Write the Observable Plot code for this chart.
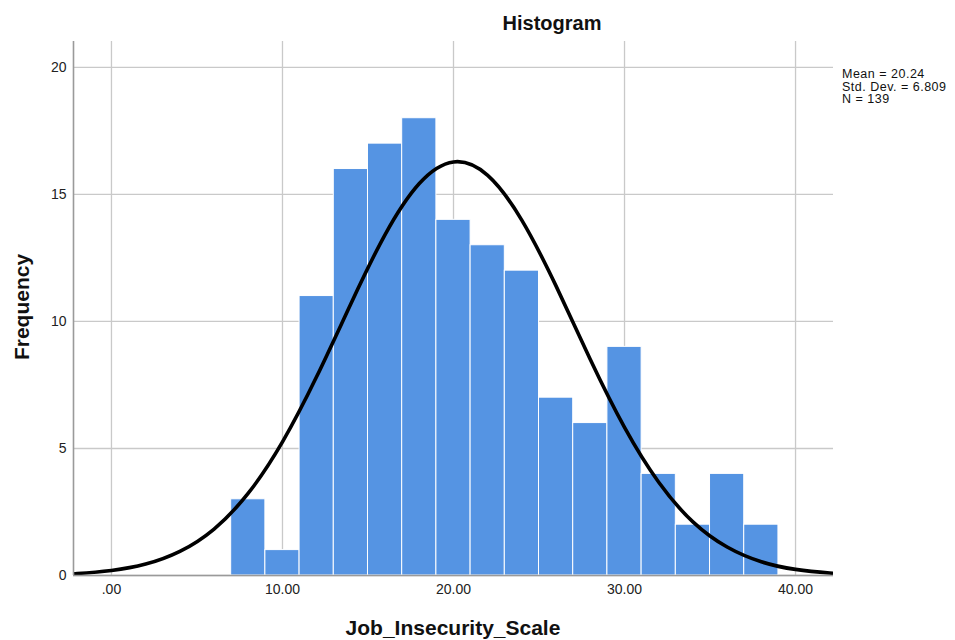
<!DOCTYPE html>
<html>
<head>
<meta charset="utf-8">
<script src="https://cdn.jsdelivr.net/npm/d3@7"></script>
<script src="https://cdn.jsdelivr.net/npm/@observablehq/plot@0.6"></script>
<style>
  html, body { margin: 0; padding: 0; background: #fff; }
  #wrap { position: relative; width: 955px; height: 640px; font-family: "Liberation Sans", Arial, sans-serif; color: #111; }
  #wrap svg { position: absolute; left: 0; top: 0; }
  .lbl { position: absolute; white-space: nowrap; }
</style>
</head>
<body>
<div id="wrap">
  <div class="lbl" id="title">Histogram</div>
  <div class="lbl" id="ylab">Frequency</div>
  <div class="lbl" id="xlab">Job_Insecurity_Scale</div>
  <div class="lbl" id="stats"></div>
</div>
<script>
// ---- data ----
const binStarts = [7, 9, 11, 13, 15, 17, 19, 21, 23, 25, 27, 29, 31, 33, 35, 37];
const binWidth = 2;
const counts = [3, 1, 11, 16, 17, 18, 14, 13, 12, 7, 6, 9, 4, 2, 4, 2];

// fitted normal curve
const curveX = [-3, -2, 0, 2, 4, 6, 8, 10, 12, 14, 16, 18, 20, 22, 24, 26, 28, 30, 32, 34, 36, 38, 40, 42, 43];
const curveY = [0.05, 0.08, 0.20, 0.45, 0.95, 1.83, 3.24, 5.26, 7.83, 10.70, 13.42, 15.43, 16.28, 15.75, 13.98, 11.39, 8.50, 5.83, 3.67, 2.11, 1.12, 0.54, 0.24, 0.10, 0.06];

const xTicks = [0, 10, 20, 30, 40];
const yTicks = [0, 5, 10, 15, 20];
const statLines = ["Mean = 20.24", "Std. Dev. = 6.809", "N = 139"];

// ---- tables ----
const bars = binStarts.map((s, i) => ({x1: s, x2: s + binWidth, count: counts[i]}));
const curve = curveX.map((x, i) => ({x, y: curveY[i]}));

const xDomain = [-2.22, 42.22];
const yDomain = [0, 21.02];

const chart = Plot.plot({
  width: 955,
  height: 640,
  marginLeft: 73,
  marginRight: 122,
  marginTop: 41,
  marginBottom: 65,
  style: {fontFamily: "'Liberation Sans', Arial, sans-serif", fontSize: "14px", background: "transparent"},
  x: {domain: xDomain, axis: null},
  y: {domain: yDomain, axis: null},
  marks: [
    Plot.gridX(xTicks, {stroke: "#c9c9c9", strokeOpacity: 1, strokeWidth: 1.3}),
    Plot.gridY(yTicks, {stroke: "#c9c9c9", strokeOpacity: 1, strokeWidth: 1.3}),
    Plot.rectY(bars, {x1: "x1", x2: "x2", y: "count", fill: "#5594e3", stroke: "#ffffff", strokeWidth: 1}),
    Plot.line(curve, {x: "x", y: "y", curve: "natural", stroke: "#000", strokeWidth: 3.6, clip: true}),
    Plot.ruleX([xDomain[0]], {stroke: "#9a9a9a", strokeWidth: 1.6}),
    Plot.ruleY([0], {stroke: "#9a9a9a", strokeWidth: 1.6}),
    Plot.axisX(xTicks, {tickSize: 0, tickPadding: 9, label: null, fill: "#222", fontSize: 14,
      tickFormat: d => d === 0 ? ".00" : d.toFixed(2)}),
    Plot.axisY(yTicks, {tickSize: 0, tickPadding: 7, label: null, fill: "#222", fontSize: 14})
  ]
});
document.getElementById("wrap").prepend(chart);

// ---- text placement ----
const title = document.getElementById("title");
Object.assign(title.style, {left: "552px", top: "23px", transform: "translate(-50%,-50%)", fontSize: "20px", fontWeight: "bold"});
const xlab = document.getElementById("xlab");
Object.assign(xlab.style, {left: "453px", top: "628px", transform: "translate(-50%,-50%)", fontSize: "21px", fontWeight: "bold"});
const ylab = document.getElementById("ylab");
Object.assign(ylab.style, {left: "22px", top: "307px", transform: "translate(-50%,-50%) rotate(-90deg)", fontSize: "21px", fontWeight: "bold"});
const stats = document.getElementById("stats");
stats.innerHTML = statLines.map(s => `<div style="height:12.5px;line-height:12.5px">${s}</div>`).join("");
Object.assign(stats.style, {left: "842px", top: "68px", fontSize: "12.5px", letterSpacing: "0.5px", color: "#111"});
</script>
</body>
</html>
